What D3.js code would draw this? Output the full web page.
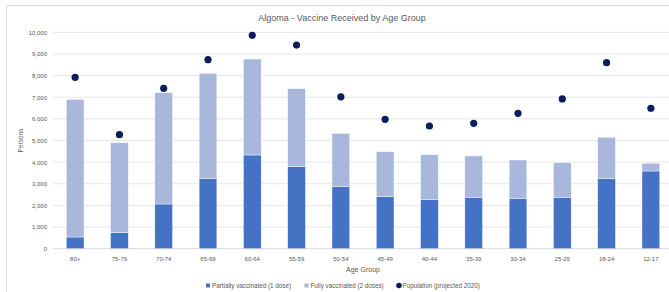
<!DOCTYPE html>
<html>
<head>
<meta charset="utf-8">
<script src="https://cdn.jsdelivr.net/npm/d3@7/dist/d3.min.js"></script>
<style>
  body { margin: 0; background: #fff; }
  svg { display: block; }
  text { font-family: "Liberation Sans", Arial, sans-serif; }
</style>
</head>
<body>
<svg id="chart" width="669" height="292"></svg>
<script>
const categories = ["80+", "75-79", "70-74", "65-69", "60-64", "55-59", "50-54", "45-49", "40-44", "35-39", "30-34", "25-29", "18-24", "12-17"];
const partial = [540, 740, 2065, 3250, 4330, 3790, 2865, 2400, 2280, 2375, 2330, 2375, 3235, 3590];
const fully = [6360, 4160, 5145, 4855, 4435, 3605, 2465, 2085, 2065, 1910, 1770, 1600, 1915, 355];
const population = [7920, 5270, 7410, 8735, 9860, 9410, 7020, 5980, 5670, 5795, 6255, 6920, 8595, 6490];
const yTicks = [0, 1000, 2000, 3000, 4000, 5000, 6000, 7000, 8000, 9000, 10000];
const seriesNames = ["Partially vaccinated (1 dose)", "Fully vaccinated (2 doses)", "Population (projected 2020)"];
const colors = ["#4472C4", "#A9B7DD", "#0B1D5A"];

const svg = d3.select("#chart");
const plotLeft = 53, plotRight = 673, plotTop = 32.3, plotBottom = 248.7;

// frame
svg.append("path").attr("d", `M6.5,300 V5.5 H700`).attr("fill", "none").attr("stroke", "#d9d9d9").attr("stroke-width", 1);

const x = d3.scaleBand().domain(categories).range([plotLeft, plotRight]).paddingInner(0.6).paddingOuter(0.3);
const y = d3.scaleLinear().domain([0, 10000]).range([plotBottom, plotTop]);

// gridlines
svg.append("g").selectAll("line").data(yTicks).join("line")
  .attr("x1", plotLeft).attr("x2", plotRight)
  .attr("y1", d => y(d)).attr("y2", d => y(d))
  .attr("stroke", d => d === 0 ? "#d9d9d9" : "#e7e7e7").attr("stroke-width", 1);

// y axis labels
const yAxis = d3.axisLeft(y).tickValues(yTicks).tickFormat(d3.format(",")).tickSize(0).tickPadding(6);
const ga = svg.append("g").attr("transform", `translate(${plotLeft},0)`).call(yAxis);
ga.select(".domain").remove();
ga.selectAll("text").attr("font-size", 6).attr("fill", "#595959").attr("font-family", "Liberation Sans, Arial, sans-serif");

// x axis labels
const xAxis = d3.axisBottom(x).tickSize(0).tickPadding(8);
const gx = svg.append("g").attr("transform", `translate(0,${plotBottom})`).call(xAxis);
gx.select(".domain").remove();
gx.selectAll("text").attr("font-size", 6).attr("fill", "#595959").attr("font-family", "Liberation Sans, Arial, sans-serif");

// stacked bars
const rows = categories.map((c, i) => ({ cat: c, partial: partial[i], fully: fully[i] }));
const stack = d3.stack().keys(["partial", "fully"])(rows);
svg.append("g").selectAll("g").data(stack).join("g")
  .attr("fill", (d, i) => colors[i])
  .selectAll("rect").data(d => d).join("rect")
  .attr("x", d => x(d.data.cat))
  .attr("width", x.bandwidth())
  .attr("y", d => y(d[1]))
  .attr("height", d => y(d[0]) - y(d[1]))
  .attr("stroke", "#fff").attr("stroke-width", 0.4);

// population dots
svg.append("g").selectAll("circle").data(population).join("circle")
  .attr("cx", (d, i) => x(categories[i]) + x.bandwidth() / 2)
  .attr("cy", d => y(d))
  .attr("r", 3.6)
  .attr("fill", colors[2]);

// title
svg.append("text").attr("x", 342).attr("y", 21).attr("text-anchor", "middle")
  .attr("font-size", 9).attr("fill", "#595959").text("Algoma - Vaccine Received by Age Group");

// axis titles
svg.append("text").attr("x", 363).attr("y", 271.5).attr("text-anchor", "middle")
  .attr("font-size", 7).attr("fill", "#595959").text("Age Group");
svg.append("text").attr("transform", `translate(23,140.5) rotate(-90)`).attr("text-anchor", "middle")
  .attr("font-size", 6.5).attr("fill", "#595959").text("Persons");

// legend
const legendX = [206, 304.5, 396.5];
const lg = svg.append("g");
seriesNames.forEach((name, i) => {
  if (i < 2) {
    lg.append("rect").attr("x", legendX[i]).attr("y", 283.5).attr("width", 4).attr("height", 4).attr("fill", colors[i]);
  } else {
    lg.append("circle").attr("cx", legendX[i] + 2.5).attr("cy", 285.5).attr("r", 2.8).attr("fill", colors[i]);
  }
  lg.append("text").attr("x", legendX[i] + 6).attr("y", 287.7).attr("font-size", 6.3).attr("fill", "#595959").text(name);
});
</script>
</body>
</html>
